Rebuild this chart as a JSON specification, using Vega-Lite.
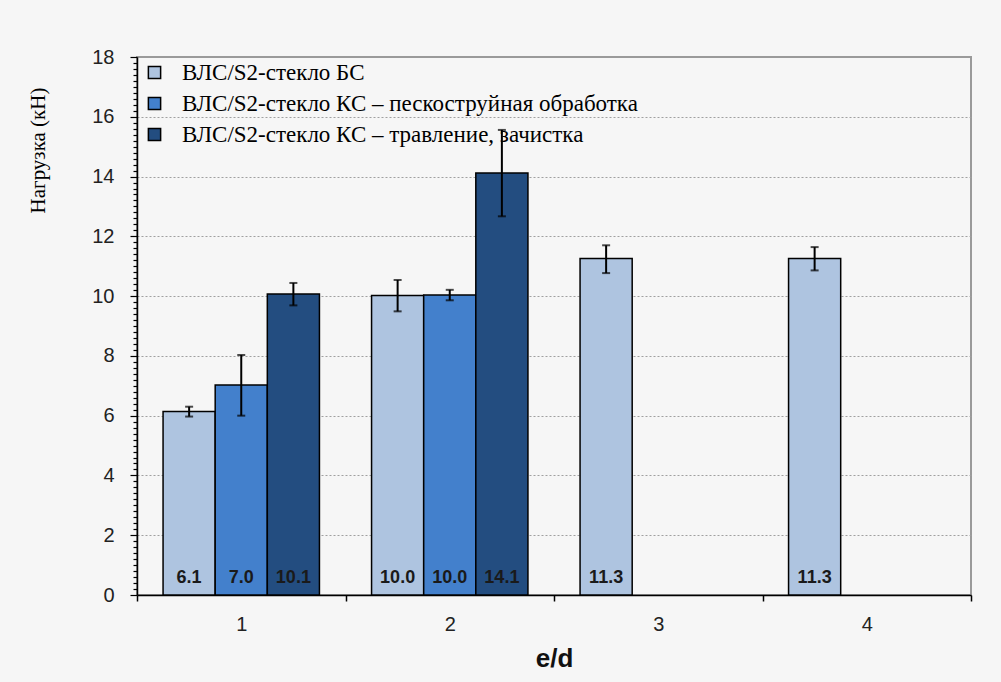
{
  "$schema": "https://vega.github.io/schema/vega-lite/v6.json",
  "width": 834,
  "height": 538,
  "autosize": {"type": "none"},
  "padding": {"left": 137, "top": 57, "right": 30, "bottom": 87},
  "background": "#f6f6f6",
  "config": {"view": {"stroke": "#9a9a9a", "strokeWidth": 2, "fill": "#f6f6f6"}},
  "data": {
    "values": [
      {"ed": "1", "series": "ВЛС/S2-стекло БС", "value": 6.14, "lo": 5.97, "hi": 6.30},
      {"ed": "1", "series": "ВЛС/S2-стекло КС – пескоструйная обработка", "value": 7.03, "lo": 6.00, "hi": 8.03},
      {"ed": "1", "series": "ВЛС/S2-стекло КС – травление, зачистка", "value": 10.07, "lo": 9.69, "hi": 10.44},
      {"ed": "2", "series": "ВЛС/S2-стекло БС", "value": 10.02, "lo": 9.49, "hi": 10.54},
      {"ed": "2", "series": "ВЛС/S2-стекло КС – пескоструйная обработка", "value": 10.04, "lo": 9.86, "hi": 10.21},
      {"ed": "2", "series": "ВЛС/S2-стекло КС – травление, зачистка", "value": 14.12, "lo": 12.67, "hi": 15.56},
      {"ed": "3", "series": "ВЛС/S2-стекло БС", "value": 11.26, "lo": 10.77, "hi": 11.70},
      {"ed": "4", "series": "ВЛС/S2-стекло БС", "value": 11.26, "lo": 10.86, "hi": 11.64}
    ]
  },
  "encoding": {
    "x": {
      "field": "ed",
      "type": "ordinal",
      "scale": {"paddingInner": 0, "paddingOuter": 0},
      "axis": {
        "title": "e/d",
        "titleFont": "Liberation Sans",
        "titleFontSize": 26,
        "titleFontWeight": "bold",
        "titleColor": "#111111",
        "titleY": 71,
        "titleBaseline": "alphabetic",
        "labelAngle": 0,
        "labelFont": "Liberation Sans",
        "labelFontSize": 20,
        "labelColor": "#222222",
        "labelBaseline": "alphabetic",
        "labelPadding": 29,
        "tickBand": "extent",
        "tickSize": 6,
        "tickColor": "black",
        "tickWidth": 1.5,
        "domainColor": "black",
        "domainWidth": 1.5,
        "grid": false
      }
    },
    "xOffset": {
      "field": "series",
      "type": "nominal",
      "scale": {
        "domain": ["ВЛС/S2-стекло БС", "ВЛС/S2-стекло КС – пескоструйная обработка", "ВЛС/S2-стекло КС – травление, зачистка"],
        "paddingInner": 0,
        "paddingOuter": 0.5
      }
    }
  },
  "layer": [
    {
      "mark": {"type": "bar", "stroke": "black", "strokeWidth": 1.5},
      "encoding": {
        "y": {
          "field": "value",
          "type": "quantitative",
          "scale": {"domain": [0, 18], "nice": false, "zero": true},
          "axis": {
            "title": "Нагрузка (кН)",
            "titleFont": "Liberation Serif",
            "titleFontSize": 21,
            "titleFontWeight": "normal",
            "titleColor": "black",
            "titleX": -99,
            "titleY": 93,
            "titleAngle": 270,
            "titleAlign": "center",
            "titleBaseline": "middle",
            "values": [0,0.2,0.4,0.6,0.8,1,1.2,1.4,1.6,1.8,2,2.2,2.4,2.6,2.8,3,3.2,3.4,3.6,3.8,4,4.2,4.4,4.6,4.8,5,5.2,5.4,5.6,5.8,6,6.2,6.4,6.6,6.8,7,7.2,7.4,7.6,7.8,8,8.2,8.4,8.6,8.8,9,9.2,9.4,9.6,9.8,10,10.2,10.4,10.6,10.8,11,11.2,11.4,11.6,11.8,12,12.2,12.4,12.6,12.8,13,13.2,13.4,13.6,13.8,14,14.2,14.4,14.6,14.8,15,15.2,15.4,15.6,15.8,16,16.2,16.4,16.6,16.8,17,17.2,17.4,17.6,17.8,18],
            "tickCount": 200,
            "labelExpr": "datum.value % 2 === 0 ? '' + datum.value : ''",
            "labelOverlap": false,
            "labelFont": "Liberation Sans",
            "labelFontSize": 20,
            "labelColor": "#222222",
            "labelPadding": 16,
            "labelBaseline": "middle",
            "labelBound": false,
            "tickSize": {"condition": {"test": "datum.value % 2 === 0", "value": 7}, "value": 4},
            "tickColor": "black",
            "tickWidth": 1.2,
            "domainColor": "black",
            "domainWidth": 1.5,
            "grid": true,
            "gridColor": "#a0a0a0",
            "gridDash": [2, 2],
            "gridWidth": 1,
            "gridOpacity": {"condition": {"test": "datum.value % 2 === 0 && datum.value > 0 && datum.value < 18", "value": 1}, "value": 0}
          }
        },
        "color": {
          "field": "series",
          "type": "nominal",
          "scale": {
            "domain": ["ВЛС/S2-стекло БС", "ВЛС/S2-стекло КС – пескоструйная обработка", "ВЛС/S2-стекло КС – травление, зачистка"],
            "range": ["#aec4e0", "#4380cc", "#234d80"]
          },
          "legend": {
            "orient": "none",
            "legendX": 6,
            "legendY": 4,
            "title": null,
            "symbolType": "square",
            "symbolSize": 150,
            "symbolStrokeColor": "black",
            "symbolStrokeWidth": 1.5,
            "labelFont": "Liberation Serif",
            "labelFontSize": 23,
            "labelColor": "black",
            "labelOffset": 16,
            "rowPadding": 7,
            "padding": 0,
            "labelLimit": 700
          }
        }
      }
    },
    {
      "mark": {"type": "rule", "color": "black", "strokeWidth": 2},
      "encoding": {
        "y": {"field": "lo", "type": "quantitative"},
        "y2": {"field": "hi"}
      }
    },
    {
      "mark": {"type": "tick", "color": "black", "thickness": 2, "size": 8},
      "encoding": {"y": {"field": "lo", "type": "quantitative"}}
    },
    {
      "mark": {"type": "tick", "color": "black", "thickness": 2, "size": 8},
      "encoding": {"y": {"field": "hi", "type": "quantitative"}}
    },
    {
      "mark": {"type": "text", "font": "Liberation Sans", "fontWeight": "bold", "fontSize": 18, "color": "#1a1a1a", "baseline": "middle", "dy": -17},
      "encoding": {
        "y": {"datum": 0, "type": "quantitative"},
        "text": {"field": "value", "type": "quantitative", "format": ".1f"}
      }
    }
  ]
}
